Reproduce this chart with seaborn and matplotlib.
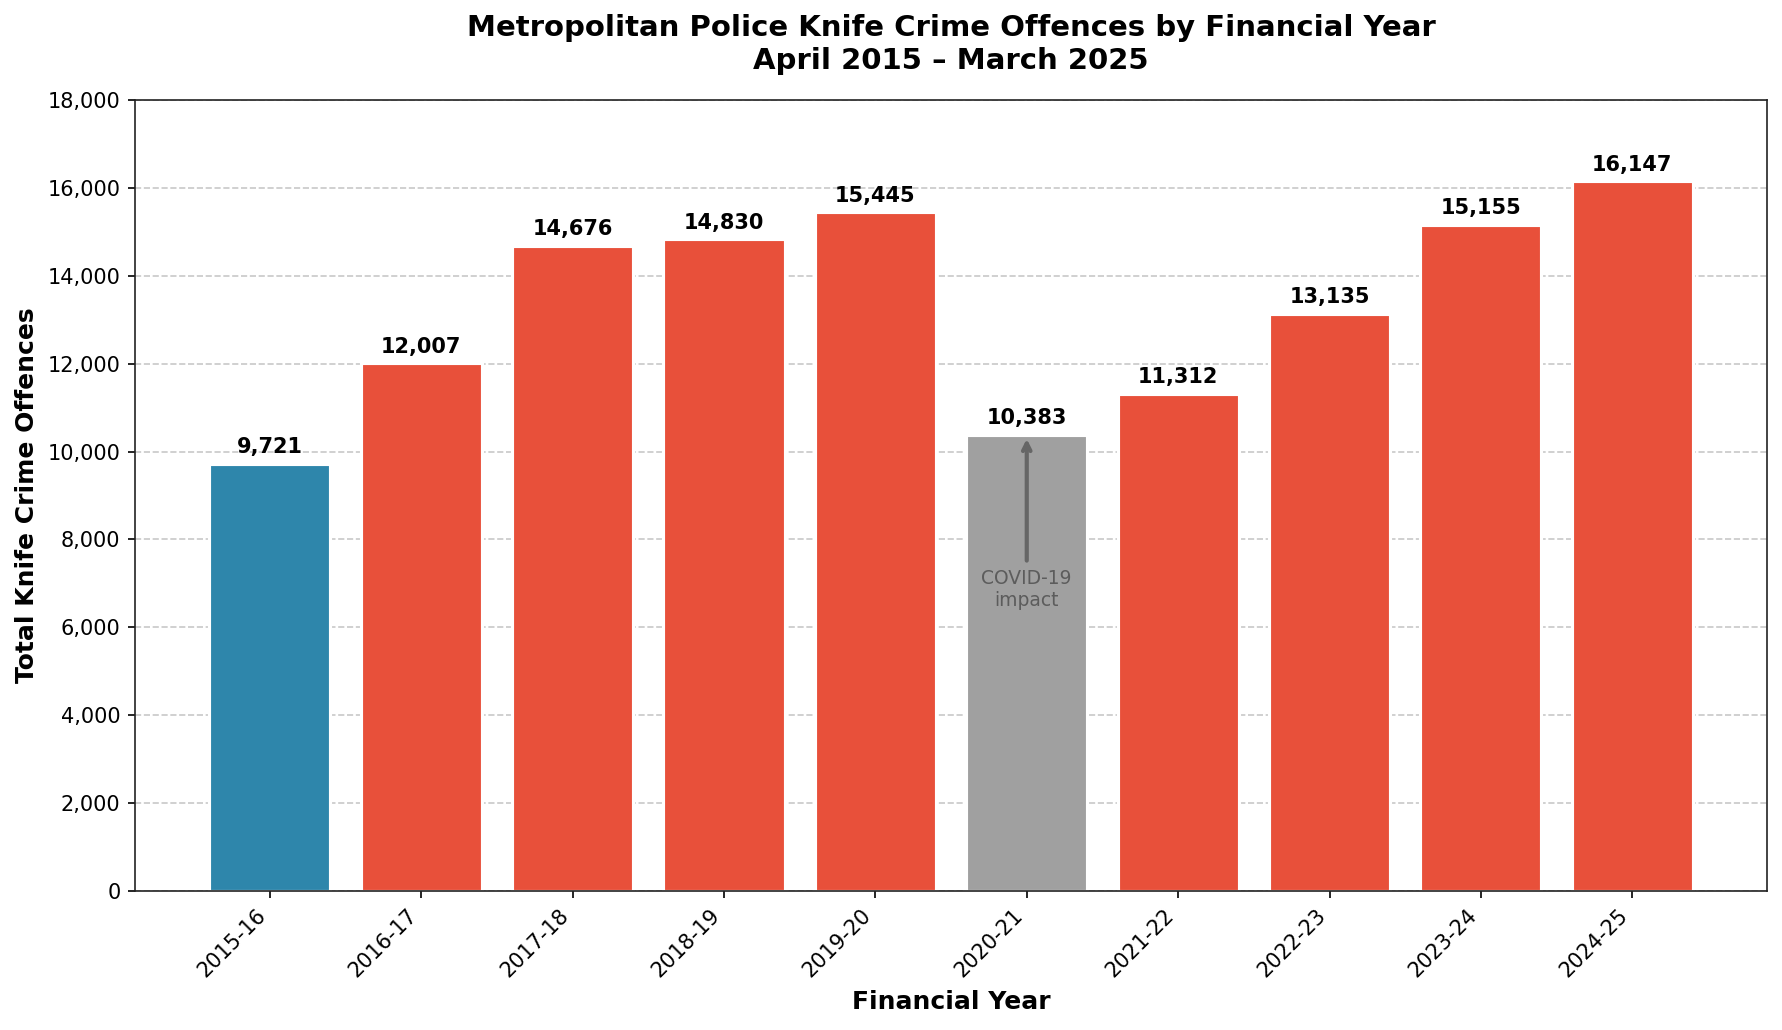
import numpy as np
import pandas as pd
import matplotlib
matplotlib.use("Agg")
import matplotlib.pyplot as plt
import seaborn as sns
from matplotlib.ticker import FuncFormatter

# data
years = ['2015-16', '2016-17', '2017-18', '2018-19', '2019-20',
         '2020-21', '2021-22', '2022-23', '2023-24', '2024-25']
offences = [9721, 12007, 14676, 14830, 15445, 10383, 11312, 13135, 15155, 16147]

BLUE = '#2E86AB'
RED = '#E8503A'
GREY = '#A0A0A0'
colours = [BLUE] + [RED] * 4 + [GREY] + [RED] * 4

df = pd.DataFrame({'Year': years, 'Offences': offences})

sns.set_style('ticks')
plt.rcParams['font.family'] = ['DejaVu Sans']
plt.rcParams.update({'text.color': 'black', 'axes.labelcolor': 'black',
                     'xtick.color': 'black', 'ytick.color': 'black',
                     'xtick.major.size': 3.5, 'ytick.major.size': 3.5})

fig, ax = plt.subplots(figsize=(11.88, 6.867), dpi=150)
fig.subplots_adjust(left=0.0758, right=0.9916, top=0.9029, bottom=0.135)

sns.barplot(data=df, x='Year', y='Offences', hue='Year', palette=colours,
            legend=False, width=0.8, saturation=1, edgecolor='white',
            linewidth=1.5, ax=ax, zorder=2)
ax.set_xlim(-0.89, len(years) - 1 + 0.89)
ax.set_ylim(0, 18000)
ax.yaxis.set_major_locator(matplotlib.ticker.MultipleLocator(2000))
ax.yaxis.set_major_formatter(FuncFormatter(lambda v, p: f'{int(v):,}'))
ax.grid(axis='y', linestyle='--', color='#bbbbbb', alpha=0.8, zorder=0)
ax.set_axisbelow(True)

# value labels above bars
for i, v in enumerate(offences):
    ax.text(i, v + 150, f'{v:,}', ha='center', va='bottom',
            fontsize=10, fontweight='bold')

# covid note
ax.annotate('COVID-19\nimpact', xy=(5, 10383), xytext=(5, 6850),
            ha='center', va='center', fontsize=9, color='#555555', alpha=0.9,
            arrowprops=dict(arrowstyle='->', color='#666666', lw=2))

ax.set_title('Metropolitan Police Knife Crime Offences by Financial Year\nApril 2015 – March 2025',
             fontsize=14, fontweight='bold', pad=15)
ax.set_xlabel('Financial Year', fontsize=12, fontweight='bold')
ax.set_ylabel('Total Knife Crime Offences', fontsize=12, fontweight='bold')
plt.setp(ax.get_xticklabels(), rotation=45, ha='right')
for s in ax.spines.values():
    s.set_color('#222222')
    s.set_zorder(3)

fig.savefig('out.png', dpi=150)
